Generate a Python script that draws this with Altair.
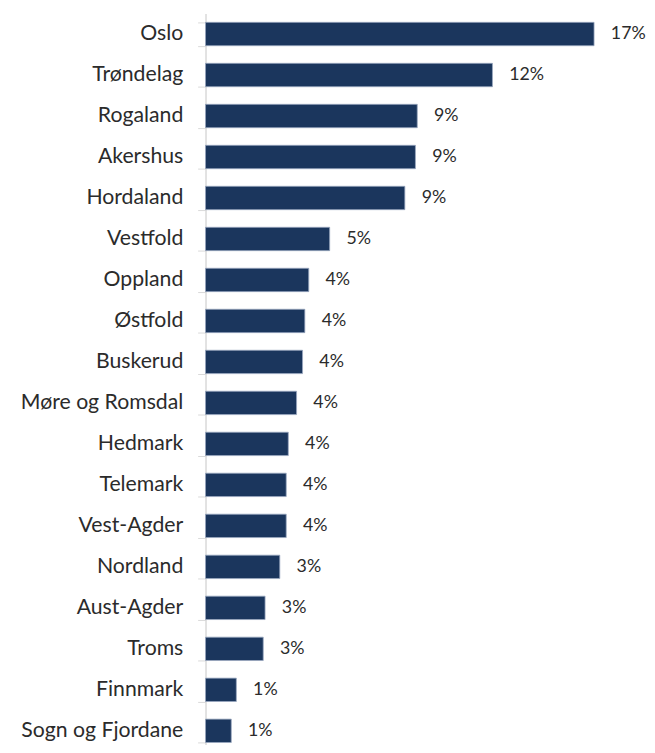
import altair as alt
import pandas as pd

regions = ["Oslo", "Trøndelag", "Rogaland", "Akershus", "Hordaland", "Vestfold",
           "Oppland", "Østfold", "Buskerud", "Møre og Romsdal", "Hedmark", "Telemark",
           "Vest-Agder", "Nordland", "Aust-Agder", "Troms", "Finnmark", "Sogn og Fjordane"]
shares = [16.90, 12.48, 9.21, 9.13, 8.67, 5.40, 4.49, 4.32, 4.22, 3.96, 3.60, 3.51,
          3.51, 3.23, 2.59, 2.51, 1.34, 1.12]
labels = ["17%", "12%", "9%", "9%", "9%", "5%", "4%", "4%", "4%", "4%", "4%", "4%",
          "4%", "3%", "3%", "3%", "1%", "1%"]

df = pd.DataFrame({"region": regions, "share": shares, "label": labels})

y = alt.Y("region:N", sort=regions, title=None,
          scale=alt.Scale(range=[0, 747], paddingInner=0.43, paddingOuter=0.215),
          axis=alt.Axis(labelFontSize=21.5, labelFont="Lato", labelColor="#2b2b2b",
                        labelPadding=15, tickSize=8, tickColor="#d9d9d9", tickWidth=1,
                        domainColor="#d9d9d9", domainWidth=1.5, tickBand="extent",
                        labelLimit=0, grid=False))
x = alt.X("share:Q", title=None, axis=None, scale=alt.Scale(domain=[0, 18], nice=False))

bars = alt.Chart(df).mark_bar(color="#1b365d", stroke="#9aa8bf", strokeWidth=0.8).encode(y=y, x=x)
text = alt.Chart(df).mark_text(align="left", baseline="middle", dx=17, fontSize=18,
                               font="Lato", color="#2b2b2b").encode(y=y, x=x, text="label:N")

chart = (bars + text).properties(
    width=419, height=736,
    padding={"left": 200, "top": 1, "right": 28, "bottom": 0},
    autosize=alt.AutoSizeParams(type="none"),
).configure_view(stroke=None)

chart.save("out.html", embed_options={"renderer": "svg", "actions": False})
